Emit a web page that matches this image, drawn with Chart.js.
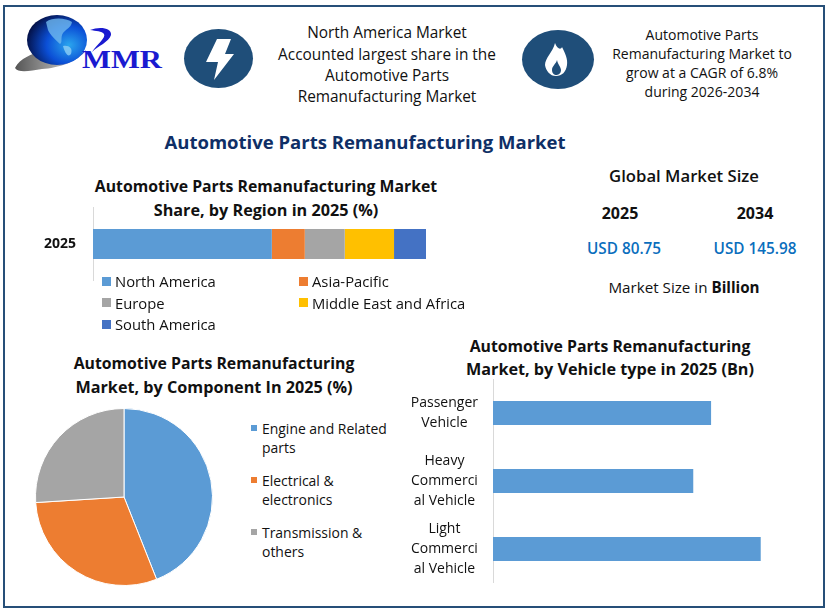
<!DOCTYPE html>
<html>
<head>
<meta charset="utf-8">
<title>Automotive Parts Remanufacturing Market</title>
<script src="https://cdn.jsdelivr.net/npm/chart.js@4/dist/chart.umd.min.js"></script>
<style>
  html, body { margin: 0; padding: 0; background: #fff; }
  #page { position: relative; width: 829px; height: 615px; overflow: hidden; font-family: "Open Sans", sans-serif; color: #111; }
  #frame { position: absolute; left: 3px; top: 5px; width: 818px; height: 599px; border: 2.5px solid #264f78; }
  .t { position: absolute; white-space: nowrap; transform: translate(-50%, -50%); text-align: center; }
  .l { position: absolute; white-space: nowrap; transform: translateY(-50%); }
  .sw { position: absolute; }
  canvas { position: absolute; }
  svg { position: absolute; left: 0; top: 0; }
</style>
</head>
<body>
<div id="page">
  <div id="frame"></div>

  <svg width="829" height="615">
    <defs>
      <radialGradient id="globe" cx="0.7" cy="0.6" r="0.75">
        <stop offset="0" stop-color="#2aa5ee"/>
        <stop offset="0.5" stop-color="#0b4fd6"/>
        <stop offset="1" stop-color="#030b3a"/>
      </radialGradient>
      <linearGradient id="swoosh" x1="0" x2="1">
        <stop offset="0" stop-color="#555"/>
        <stop offset="0.6" stop-color="#aaa"/>
        <stop offset="1" stop-color="#1f3fd0"/>
      </linearGradient>
    </defs>
    <path d="M15 68 C20 58 32 54 42 51 C34 58 42 63 56 61 C68 60 78 56 86 50 C78 62 58 68 42 69 C30 71 18 73 15 68 Z" fill="url(#swoosh)"/>
    <ellipse cx="57" cy="40" rx="30" ry="25" fill="url(#globe)"/>
    <path d="M46 22 C53 17 66 18 72 22 C71 28 66 29 63 33 C60 38 63 42 60 44 C55 39 50 35 48 30 Z" fill="#6fb8ee" opacity="0.8"/>
    <path d="M63 46 C69 45 73 48 71 54 C68 58 65 53 63 46 Z" fill="#8fd0f5" opacity="0.8"/>
    <path d="M90 30 C100 26 112 28 111 35 C109 42 98 46 92 52 C98 43 106 38 104 34 C102 31 96 31 90 30 Z" fill="#1a1ad0"/>
    <text x="82" y="68" font-family="Liberation Serif" font-weight="bold" font-size="25" fill="#1a1ad0" textLength="80" lengthAdjust="spacingAndGlyphs">MMR</text>

    <ellipse cx="218.5" cy="58.5" rx="34.5" ry="29.5" fill="#1f4e79"/>
    <path d="M217 39 L231 39 L225 54 L234 54 L214 80 L218 62 L206 62 Z" fill="#fff"/>

    <ellipse cx="558" cy="59.5" rx="36" ry="29.5" fill="#1f4e79"/>
    <path d="M555 43 C557 49 561 50 562 47 C565 53 568 59 567 65 C566 72 562 76 556 76 C550 76 546 71 545 65 C545 58 553 52 555 43 Z" fill="#fff"/>
    <path d="M557 60 C556 64 552 66 552 70 C552 74 555 75 556 75 C558 75 561 74 561 70 C561 67 558 65 557 60 Z" fill="#1f4e79"/>
  </svg>

  <div class="t" style="left:387px;top:32px;font-size:15.4px">North America Market</div>
  <div class="t" style="left:387px;top:54px;font-size:15.4px">Accounted largest share in the</div>
  <div class="t" style="left:387px;top:75px;font-size:15.4px">Automotive Parts</div>
  <div class="t" style="left:387px;top:96px;font-size:15.4px">Remanufacturing Market</div>

  <div class="t" style="left:702px;top:33.5px;font-size:14px">Automotive Parts</div>
  <div class="t" style="left:702px;top:52.5px;font-size:14px">Remanufacturing Market to</div>
  <div class="t" style="left:702px;top:71.5px;font-size:14px">grow at a CAGR of 6.8%</div>
  <div class="t" style="left:702px;top:90.5px;font-size:14px">during 2026-2034</div>

  <div class="t" style="left:365px;top:140.5px;font-size:18.5px;font-weight:700;color:#0f2f66">Automotive Parts Remanufacturing Market</div>

  <div class="t" style="left:266px;top:186px;font-size:15.8px;font-weight:700">Automotive Parts Remanufacturing Market</div>
  <div class="t" style="left:266px;top:210px;font-size:16.2px;font-weight:700">Share, by Region in 2025 (%)</div>

  <div class="t" style="left:684px;top:174.5px;font-size:16.7px;font-weight:600">Global Market Size</div>
  <div class="t" style="left:620px;top:213px;font-size:16px;font-weight:700">2025</div>
  <div class="t" style="left:755px;top:213px;font-size:16px;font-weight:700">2034</div>
  <div class="t" style="left:624px;top:248px;font-size:15.3px;font-weight:600;color:#0a6ebd">USD 80.75</div>
  <div class="t" style="left:755px;top:248px;font-size:15.3px;font-weight:600;color:#0a6ebd">USD 145.98</div>
  <div class="t" style="left:684px;top:287px;font-size:15.2px">Market Size in <b>Billion</b></div>

  <div class="t" style="left:214px;top:363px;font-size:15.8px;font-weight:700">Automotive Parts Remanufacturing</div>
  <div class="t" style="left:214px;top:387px;font-size:16.2px;font-weight:700">Market, by Component In 2025 (%)</div>

  <div class="t" style="left:610px;top:346px;font-size:15.8px;font-weight:700">Automotive Parts Remanufacturing</div>
  <div class="t" style="left:610px;top:369px;font-size:16.2px;font-weight:700">Market, by Vehicle type in 2025 (Bn)</div>

  <canvas id="regionChart" style="left:20px;top:207px" width="406" height="74"></canvas>
  <canvas id="componentChart" style="left:35px;top:408px" width="178" height="178"></canvas>
  <canvas id="vehicleChart" style="left:398px;top:379px" width="392" height="204"></canvas>
  <div id="regionLegend"></div>
  <div id="componentLegend"></div>
</div>

<script>
const regionYears = ['2025'];
const regionNames = ['North America', 'Asia-Pacific', 'Europe', 'Middle East and Africa', 'South America'];
const regionShares = [53.7, 9.9, 12, 14.8, 9.6];
const regionColors = ['#5b9bd5', '#ed7d31', '#a5a5a5', '#ffc000', '#4472c4'];

const componentNames = [['Engine and Related', 'parts'], ['Electrical &', 'electronics'], ['Transmission &', 'others']];
const componentShares = [44, 30, 26];
const componentColors = ['#5b9bd5', '#ed7d31', '#a5a5a5'];

const vehicleNames = [['Passenger', 'Vehicle'], ['Heavy', 'Commerci', 'al Vehicle'], ['Light', 'Commerci', 'al Vehicle']];
const vehicleValues = [25.7, 23.6, 31.55];

const labelFont = '"Open Sans", sans-serif';

// tick padding eats into the plot height on a y axis, so drop it after the fit
const fixAxis = (width) => (scale) => {
  scale.width = width;
  scale.paddingTop = 0;
  scale.paddingBottom = 0;
};

new Chart(document.getElementById('regionChart'), {
  type: 'bar',
  data: {
    labels: regionYears,
    datasets: regionNames.map((name, i) => ({
      label: name,
      data: [regionShares[i]],
      backgroundColor: regionColors[i],
      categoryPercentage: 1,
      barPercentage: 30 / 74
    }))
  },
  options: {
    indexAxis: 'y',
    responsive: false,
    animation: false,
    layout: { padding: 0 },
    plugins: { legend: { display: false }, tooltip: { enabled: false } },
    scales: {
      x: { stacked: true, display: false, min: 0, max: 100 },
      y: {
        stacked: true,
        afterFit: fixAxis(73),
        grid: { display: false, drawTicks: false },
        border: { color: '#d9d9d9' },
        ticks: { color: '#111', padding: 17, font: { family: labelFont, size: 14, weight: 'bold' } }
      }
    }
  }
});

new Chart(document.getElementById('componentChart'), {
  type: 'pie',
  data: {
    labels: componentNames.map(n => n.join(' ')),
    datasets: [{ data: componentShares, backgroundColor: componentColors, borderColor: '#fff', borderWidth: 1 }]
  },
  options: {
    responsive: false,
    animation: false,
    layout: { padding: 0 },
    plugins: { legend: { display: false }, tooltip: { enabled: false } }
  }
});

new Chart(document.getElementById('vehicleChart'), {
  type: 'bar',
  data: {
    labels: vehicleNames,
    datasets: [{ data: vehicleValues, backgroundColor: '#5b9bd5', categoryPercentage: 1, barPercentage: 24 / 68 }]
  },
  options: {
    indexAxis: 'y',
    responsive: false,
    animation: false,
    layout: { padding: 0 },
    plugins: { legend: { display: false }, tooltip: { enabled: false } },
    scales: {
      x: { display: false, min: 0, max: 35 },
      y: {
        afterFit: fixAxis(95),
        grid: { display: false, drawTicks: false },
        border: { color: '#d9d9d9' },
        ticks: { color: '#111', padding: 15, crossAlign: 'center', font: { family: labelFont, size: 14, lineHeight: 1.4 } }
      }
    }
  }
});

// legends are html because both of them sit in a layout Chart.js legends can't do
function addLegendRow(box, color, lines, x, y, swatch, step, size) {
  box.insertAdjacentHTML('beforeend',
    `<div class="sw" style="left:${x}px;top:${y - swatch / 2}px;width:${swatch}px;height:${swatch}px;background:${color}"></div>`);
  lines.forEach((line, i) => {
    box.insertAdjacentHTML('beforeend',
      `<div class="l" style="left:${x + swatch + (swatch < 8 ? 5 : 4)}px;top:${y + i * step}px;font-size:${size}px">${line.replace('&', '&amp;')}</div>`);
  });
}

const regionBox = document.getElementById('regionLegend');
const regionOrder = [[0, 102, 281], [1, 299, 281], [2, 102, 302.5], [3, 299, 302.5], [4, 102, 324]];
regionOrder.forEach(([i, x, y]) => addLegendRow(regionBox, regionColors[i], [regionNames[i]], x, y, 9, 0, 14.8));

const componentBox = document.getElementById('componentLegend');
const componentRows = [427.5, 479.5, 531.5];
componentNames.forEach((lines, i) => addLegendRow(componentBox, componentColors[i], lines, 251, componentRows[i], 6, 19, 13.95));
</script>
</body>
</html>
